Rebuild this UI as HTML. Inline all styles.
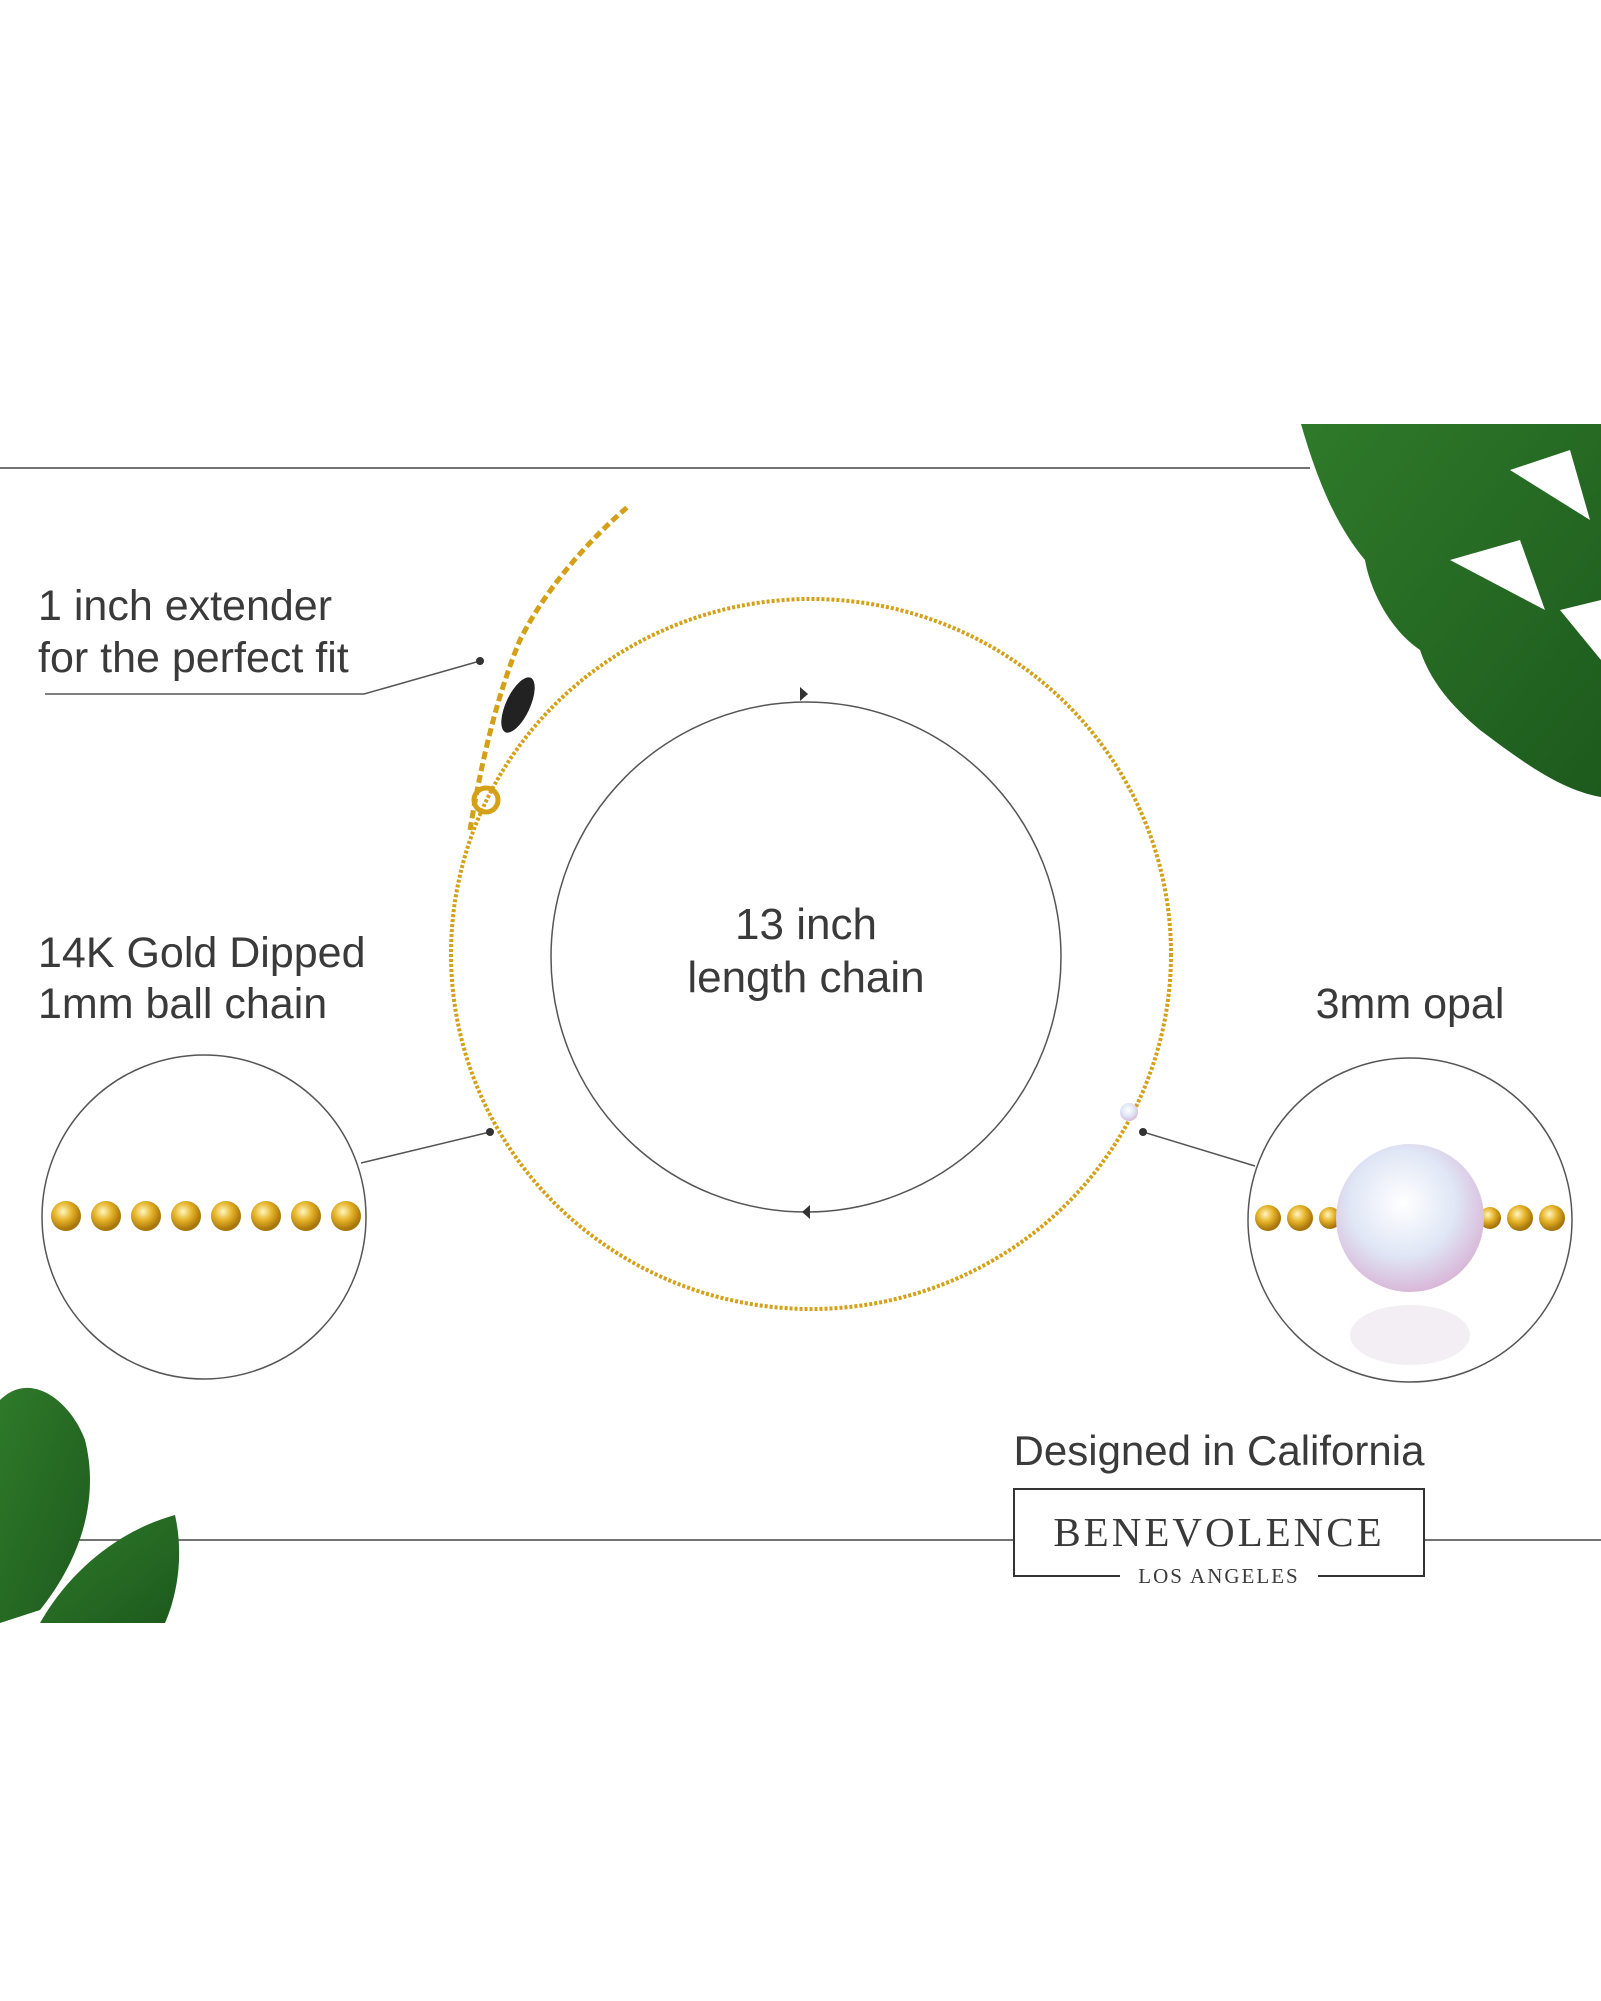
<!DOCTYPE html>
<html><head><meta charset="utf-8"><style>
html,body{margin:0;padding:0;background:#fff}
svg{display:block}
text{font-family:"Liberation Sans",sans-serif;fill:#3a3a3a}
</style></head><body>
<svg width="1601" height="2001" viewBox="0 0 1601 2001" xmlns="http://www.w3.org/2000/svg">
<defs>
<radialGradient id="g" cx="40%" cy="35%" r="60%"><stop offset="0" stop-color="#fff6c0"/><stop offset="0.5" stop-color="#e6b42a"/><stop offset="1" stop-color="#a8760a"/></radialGradient>
<radialGradient id="op" cx="45%" cy="40%" r="60%"><stop offset="0" stop-color="#fff"/><stop offset="0.6" stop-color="#dfe6f5"/><stop offset="1" stop-color="#d9b8d9"/></radialGradient>
<linearGradient id="lf" x1="0" y1="0" x2="1" y2="1"><stop offset="0" stop-color="#2f7a2a"/><stop offset="1" stop-color="#1d5a1d"/></linearGradient>
</defs>
<line x1="0" y1="468" x2="1310" y2="468" stroke="#444" stroke-width="1.5"/>
<line x1="0" y1="1540" x2="1014" y2="1540" stroke="#444" stroke-width="1.5"/>
<line x1="1424" y1="1540" x2="1601" y2="1540" stroke="#444" stroke-width="1.5"/>
<path d="M1301 424 L1601 424 L1601 797 C1560 790 1520 760 1480 730 C1450 705 1430 680 1420 650 C1390 630 1370 590 1365 560 C1340 530 1320 490 1301 424 Z" fill="url(#lf)"/>
<path d="M1450 560 L1520 540 L1545 610 Z M1510 470 L1570 450 L1590 520 Z M1560 610 L1601 600 L1601 660 Z" fill="#fff"/>
<path d="M0 1400 C30 1370 70 1400 85 1440 C100 1500 80 1560 40 1610 L0 1623 Z" fill="url(#lf)"/>
<path d="M40 1623 C70 1570 120 1530 175 1515 C185 1560 175 1600 165 1623 Z" fill="url(#lf)"/>
<text x="38" y="620" font-size="43">1 inch extender</text>
<text x="38" y="672" font-size="43">for the perfect fit</text>
<polyline points="45,694 364,694 480,661" fill="none" stroke="#555" stroke-width="1.5"/>
<circle cx="480" cy="661" r="4" fill="#333"/>
<text x="38" y="967" font-size="43">14K Gold Dipped</text>
<text x="38" y="1018" font-size="43">1mm ball chain</text>
<text x="1410" y="1018" font-size="43" text-anchor="middle">3mm opal</text>
<text x="806" y="939" font-size="44" text-anchor="middle">13 inch</text>
<text x="806" y="992" font-size="44" text-anchor="middle">length chain</text>
<circle cx="806" cy="957" r="255" fill="none" stroke="#555" stroke-width="1.5"/>
<polygon points="808,694 800,687 800,701" fill="#333"/>
<polygon points="802,1212 810,1205 810,1219" fill="#333"/>
<ellipse cx="811" cy="954" rx="360" ry="355" fill="none" stroke="#d4a017" stroke-width="4" stroke-dasharray="3 2"/>
<circle cx="1129" cy="1112" r="9" fill="url(#op)"/>
<path d="M470 830 C480 770 495 700 520 640 C550 580 600 530 630 505" fill="none" stroke="#d4a017" stroke-width="5" stroke-dasharray="8 4"/>
<ellipse cx="518" cy="705" rx="12" ry="30" transform="rotate(25 518 705)" fill="#222"/>
<circle cx="486" cy="800" r="12" fill="none" stroke="#d4a017" stroke-width="5"/>
<line x1="361" y1="1163" x2="490" y2="1132" stroke="#555" stroke-width="1.5"/>
<circle cx="490" cy="1132" r="4" fill="#333"/>
<line x1="1143" y1="1132" x2="1255" y2="1166" stroke="#555" stroke-width="1.5"/>
<circle cx="1143" cy="1132" r="4" fill="#333"/>
<circle cx="204" cy="1217" r="162" fill="#fff" stroke="#555" stroke-width="1.5"/>
<g fill="url(#g)">
<circle cx="66" cy="1216" r="15"/><circle cx="106" cy="1216" r="15"/><circle cx="146" cy="1216" r="15"/><circle cx="186" cy="1216" r="15"/><circle cx="226" cy="1216" r="15"/><circle cx="266" cy="1216" r="15"/><circle cx="306" cy="1216" r="15"/><circle cx="346" cy="1216" r="15"/>
</g>
<circle cx="1410" cy="1220" r="162" fill="#fff" stroke="#555" stroke-width="1.5"/>
<g fill="url(#g)">
<circle cx="1268" cy="1218" r="13"/><circle cx="1300" cy="1218" r="13"/><circle cx="1330" cy="1218" r="11"/>
<circle cx="1490" cy="1218" r="11"/><circle cx="1520" cy="1218" r="13"/><circle cx="1552" cy="1218" r="13"/>
</g>
<circle cx="1410" cy="1218" r="74" fill="url(#op)"/>
<ellipse cx="1410" cy="1335" rx="60" ry="30" fill="#f3eef3"/>
<text x="1219" y="1465" font-size="42" text-anchor="middle">Designed in California</text>
<rect x="1014" y="1489" width="410" height="87" fill="#fff" stroke="#333" stroke-width="2"/>
<text x="1219" y="1546" font-size="41" text-anchor="middle" letter-spacing="3" style="font-family:'Liberation Serif',serif" fill="#222">BENEVOLENCE</text>
<rect x="1110" y="1560" width="220" height="30" fill="#fff"/>
<text x="1219" y="1583" font-size="21" text-anchor="middle" letter-spacing="2" style="font-family:'Liberation Serif',serif" fill="#222">LOS ANGELES</text>
<line x1="1040" y1="1576" x2="1120" y2="1576" stroke="#333" stroke-width="2"/>
<line x1="1318" y1="1576" x2="1398" y2="1576" stroke="#333" stroke-width="2"/>
</svg>
</body></html>
